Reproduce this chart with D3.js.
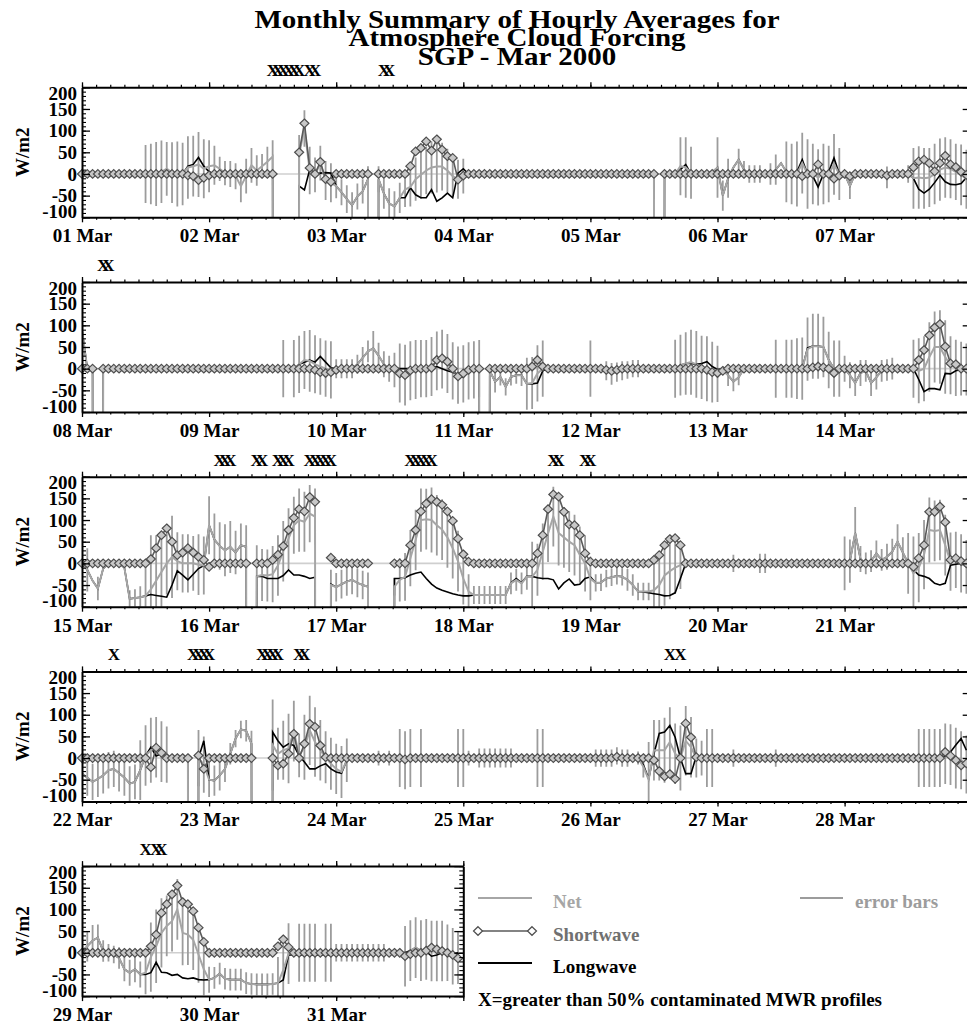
<!DOCTYPE html>
<html><head><meta charset="utf-8">
<script src="https://cdn.jsdelivr.net/npm/d3@7"></script>
<style>body{margin:0;background:#fff}svg{display:block}</style>
</head><body>
<svg id="chart" width="967" height="1025"></svg>
<script>
const _ = null;

const titleLines = ["Monthly Summary of Hourly Averages for", "Atmosphere Cloud Forcing", "SGP - Mar 2000"];
const dayLabels = ["01 Mar","02 Mar","03 Mar","04 Mar","05 Mar","06 Mar","07 Mar","08 Mar","09 Mar","10 Mar",
  "11 Mar","12 Mar","13 Mar","14 Mar","15 Mar","16 Mar","17 Mar","18 Mar","19 Mar","20 Mar","21 Mar","22 Mar",
  "23 Mar","24 Mar","25 Mar","26 Mar","27 Mar","28 Mar","29 Mar","30 Mar","31 Mar"];
const panelStartDay = [0, 7, 14, 21, 28];
const panelDays = [7, 7, 7, 7, 3];
const yTicks = [-100, -50, 0, 50, 100, 150, 200];
const yTitle = "W/m2";
const legendNames = ["Net", "Shortwave", "Longwave", "error bars"];
const footnote = "X=greater than 50% contaminated MWR profiles";

// hourly values, one row per day (24 hours), null = missing
const sw1 = [
 [0,0,0,0,0,0,0,0,0,0,0,0,0,0,0,0,0,0,0,0,-3,-5,-14,-9],
 [-3,0,0,0,0,0,0,0,0,0,0,0,0,_,_,_,_,50,117,14,0,28,-12,-18],
 [0,0,0,0,0,0,0,_,0,0,0,0,0,0,18,52,60,75,54,80,56,41,37,-13],
 [-4,0,0,0,0,0,0,0,0,0,0,0,0,0,0,0,0,0,0,0,0,0,0,0],
 [0,0,0,0,0,0,0,0,0,0,0,0,0,_,0,0,0,0,0,0,0,0,0,0],
 [0,0,0,0,0,0,0,0,0,0,0,0,0,0,0,0,-5,0,0,22,0,0,-11,-4],
 [0,-5,0,0,0,0,0,0,-3,0,0,0,0,15,29,33,25,6,25,42,22,16,5,-2]];
const lw1 = [
 [0,0,0,0,0,0,0,0,0,0,0,0,0,0,0,5,10,2,0,0,18,22,38,18],
 [5,0,0,0,0,0,0,0,0,0,0,0,0,_,_,_,_,-28,-37,10,-2,2,3,2],
 [-28,-42,-58,-72,-52,-40,-12,_,-12,-45,-68,-75,-55,-55,-32,-48,-55,-55,-36,-63,-55,-44,-55,2],
 [12,0,0,0,0,0,0,0,0,0,0,0,0,0,0,0,0,0,0,0,0,0,0,0],
 [0,0,0,0,0,0,0,0,0,0,0,0,0,_,0,0,0,10,22,0,0,0,0,0],
 [15,-50,-10,15,33,10,0,0,0,0,0,10,25,5,0,5,33,0,-5,-30,0,5,37,0],
 [0,-28,0,0,0,0,0,0,-8,0,0,0,0,-10,-35,-44,-35,-20,-3,-18,-24,-25,-22,-8]];
const net1 = [
 [0,0,0,0,0,0,0,0,0,0,0,0,0,0,0,5,12,3,0,0,15,18,22,12],
 [18,20,12,2,0,-5,-28,-5,20,8,18,28,40,_,_,_,_,45,105,8,-2,25,-15,-20],
 [-28,-42,-58,-72,-52,-40,-12,_,-12,-45,-68,-75,-55,-36,-30,-12,-2,8,15,17,17,8,-5,-12],
 [-5,0,0,0,0,0,0,0,0,0,0,0,0,0,0,0,0,0,0,0,0,0,0,0],
 [0,0,0,0,0,0,0,0,0,0,0,0,0,_,0,0,0,18,15,3,0,0,0,5],
 [15,-50,-10,15,33,10,0,0,0,0,0,10,25,5,0,0,25,0,0,-8,0,0,22,0],
 [0,-28,0,0,0,0,0,0,-8,0,0,0,0,-10,-8,-10,-8,0,10,15,12,5,-2,-12]];
const err1 = [
 [_,_,_,_,_,_,_,_,_,_,_,_,67,70,74,72,62,70,75,72,72,70,75,68],
 [60,45,28,28,30,30,37,40,40,35,28,35,38,_,_,_,_,45,42,55,40,40,45,45],
 [28,30,32,30,30,28,30,_,30,35,35,35,35,40,45,50,55,55,60,60,55,50,45,45],
 [40,_,_,_,_,_,_,_,_,_,_,_,_,_,_,_,_,_,_,_,_,_,_,_],
 [_,_,_,_,_,_,_,_,_,_,_,_,_,_,_,_,_,67,70,60,_,_,_,_],
 [70,35,45,_,25,20,20,20,20,_,25,35,_,70,70,75,70,80,70,65,70,65,70,60],
 [_,30,_,_,_,_,_,_,25,_,_,_,20,70,72,70,68,70,72,70,68,65,70,68]];
const flags1 = [36,37,38,39,40,41,43,44,57,58];

const sw2 = [
 [0,0,0,_,0,0,0,0,0,0,0,0,0,0,0,0,0,0,0,0,0,0,0,0],
 [0,0,0,0,0,0,0,0,0,0,0,0,0,0,0,0,0,0,0,0,-3,-8,-10,-8],
 [-3,0,0,0,0,0,0,0,0,0,0,0,-11,-15,-4,0,0,0,2,20,24,16,0,-18],
 [-11,-3,0,0,_,0,0,0,0,0,0,0,0,5,20,5,0,0,0,0,0,0,0,0],
 [0,0,0,-3,-5,-3,0,0,0,0,0,0,0,0,0,0,0,0,0,0,0,0,-3,-8],
 [-10,-5,0,0,0,0,0,0,0,0,0,0,0,0,0,0,0,0,3,5,3,0,-10,0],
 [0,0,0,0,0,0,0,0,0,0,0,0,0,0,20,43,77,95,103,51,12,10,0,0]];
const lw2 = [
 [90,0,0,_,0,0,0,0,0,0,0,0,0,0,0,0,0,0,0,0,0,0,0,0],
 [0,0,0,0,0,0,0,0,0,0,0,0,0,0,0,0,0,10,15,20,15,28,15,2],
 [0,0,0,0,10,25,40,47,30,10,0,0,0,0,0,-2,0,0,3,5,0,-5,-8,-15],
 [-20,-5,0,0,_,-5,-30,-19,-42,-19,-15,-15,-35,-35,-33,-5,0,0,0,0,0,0,0,0],
 [0,0,0,-2,-7,-5,-5,-3,0,0,0,0,0,0,0,0,0,8,12,12,10,12,16,5],
 [-2,0,-15,-30,-20,0,0,0,0,0,0,0,0,0,0,0,0,48,52,52,50,20,0,0],
 [0,-15,-33,-10,-5,-33,-20,-5,-3,0,0,0,0,0,-25,-53,-46,-46,-49,-11,-12,-5,-2,-2]];
const net2 = [
 [90,0,0,_,0,0,0,0,0,0,0,0,0,0,0,0,0,0,0,0,0,0,0,0],
 [0,0,0,0,0,0,0,0,0,0,0,0,0,0,0,0,0,10,20,18,10,5,0,-3],
 [0,0,0,0,10,25,40,47,30,10,0,-3,-10,-15,-5,-2,0,0,5,18,22,12,-5,-15],
 [-12,-5,-3,0,_,-5,-30,-19,-42,-19,-15,-15,-35,-33,-11,0,0,0,0,0,0,0,0,0],
 [0,0,0,-5,-12,-8,-5,-3,0,0,0,0,0,0,0,0,0,8,12,15,10,3,0,-8],
 [-12,-5,-15,-30,-20,0,0,0,0,0,0,0,0,0,0,0,0,45,52,52,50,20,0,0],
 [0,-15,-33,-10,-5,-33,-20,-5,-3,0,0,0,0,0,-5,0,27,50,50,27,8,2,0,-2]];
const err2 = [
 [_,_,_,_,_,_,_,_,_,_,_,_,_,_,_,_,_,_,_,_,_,_,_,_],
 [_,_,_,_,_,_,_,_,_,_,_,_,_,_,66,_,66,66,67,71,67,65,65,66],
 [22,22,22,22,22,25,25,40,30,30,30,40,68,70,68,68,66,66,68,68,68,68,66,66],
 [66,66,66,66,_,_,25,20,20,20,20,25,60,60,65,65,_,_,_,_,_,_,_,_],
 [65,_,_,22,25,22,22,20,20,20,_,_,_,_,_,_,67,70,72,75,77,73,75,70],
 [65,_,25,22,18,_,_,_,_,_,_,67,_,67,67,70,72,73,75,75,70,65,65,65],
 [30,30,30,30,25,30,28,25,25,25,_,_,_,67,75,75,80,82,85,85,67,65,62,60]];
const flags2 = [4,5];

const sw3 = [
 [0,0,0,0,0,0,0,0,0,0,0,0,0,10,35,65,81,50,19,25,35,25,15,8],
 [-8,0,0,0,0,0,0,0,_,0,0,0,8,20,40,77,105,125,120,153,142,_,_,13],
 [0,0,0,0,0,0,0,_,_,_,_,0,0,0,42,77,120,138,148,142,135,120,98,57],
 [21,4,0,0,0,0,0,0,0,0,0,0,0,0,23,65,125,159,154,119,90,88,65,23],
 [4,0,0,0,0,0,0,0,0,0,0,0,8,19,42,56,58,42,0,0,0,0,0,0],
 [0,0,0,0,0,0,0,0,0,0,0,0,0,0,0,0,0,0,0,0,0,0,0,0],
 [0,0,0,0,0,0,0,0,0,0,0,0,0,-8,12,42,119,119,131,95,8,12,5,0]];
const lw3 = [
 [0,-15,-40,-58,-12,0,0,0,-10,-82,-80,-78,-75,-72,-74,-76,-78,-50,-17,-27,-38,-25,-12,-5],
 [88,55,40,30,38,25,42,38,_,-30,-30,-35,-35,-35,-28,-15,-27,-27,-30,-35,-32,_,_,-48],
 [-55,-48,-42,-38,-45,-50,-54,_,_,_,_,-35,-35,-33,-27,-23,-20,-35,-48,-57,-62,-66,-70,-73],
 [-75,-75,-73,-73,-73,-73,-73,-73,-73,-45,-35,-45,-30,-30,-33,-35,-35,-38,-59,-45,-36,-50,-48,-35],
 [-31,-45,-44,-35,-32,-29,-31,-38,-50,-65,-66,-68,-70,-72,-75,-74,-68,-35,0,0,0,0,0,0],
 [0,0,0,0,0,0,0,0,0,0,0,0,0,0,0,0,0,0,0,0,0,0,0,0],
 [0,5,70,10,0,5,23,8,15,27,50,25,0,-15,-27,-30,-35,-46,-50,-46,-4,-2,0,-8]];
const net3 = [
 [0,-15,-40,-58,-12,0,0,0,-10,-82,-80,-78,-75,-60,-40,-20,0,15,5,0,0,0,-3,-5],
 [88,55,40,30,38,25,42,38,_,-30,-27,-28,-25,-5,28,57,88,100,96,115,108,_,_,-50],
 [-55,-48,-42,-38,-45,-50,-54,_,_,_,_,-54,-38,-31,12,54,100,102,100,88,78,60,35,5],
 [-35,-65,-73,-73,-73,-73,-73,-73,-73,-46,-38,-46,-31,-31,-15,27,69,108,70,60,50,42,20,0],
 [-35,-45,-44,-35,-32,-29,-31,-38,-50,-65,-65,-65,-62,-50,-28,-18,-10,-4,0,0,0,0,0,0],
 [0,0,0,0,0,0,0,0,0,0,0,0,0,0,0,0,0,0,0,0,0,0,0,0],
 [0,5,70,10,0,5,23,8,15,27,50,25,0,-23,-10,20,77,75,77,42,4,8,0,-8]];
const err3 = [
 [_,50,_,27,_,_,_,_,_,20,20,25,75,125,105,85,72,95,67,67,67,63,70,67],
 [67,60,55,60,60,50,50,50,_,72,60,60,65,70,70,70,66,73,69,66,65,_,_,35],
 [33,33,33,33,33,33,33,_,_,_,_,20,50,55,65,70,73,70,75,70,70,70,70,70],
 [60,40,21,21,21,21,21,21,21,25,25,25,30,81,60,65,66,69,75,70,70,70,65,65],
 [50,20,20,20,20,20,20,25,25,20,20,20,70,70,70,65,60,55,_,_,_,_,_,_],
 [_,_,_,20,_,_,_,_,22,22,_,_,_,_,_,_,_,_,_,_,_,_,_,_],
 [62,50,60,30,25,25,30,25,30,30,40,35,70,85,80,80,75,70,70,70,67,65,67,62]];
const flags3 = [26,27,28,33,34,37,38,39,43,44,45,46,47,62,63,64,65,66,89,90,95,96];

const sw4 = [
 [0,0,0,0,0,0,0,0,0,0,0,0,0,-21,24,12,0,0,0,0,0,_,6,-25],
 [0,0,0,0,0,0,0,0,0,_,_,_,0,-17,-13,10,56,0,33,79,72,29,2,0],
 [0,0,0,0,0,0,0,0,0,0,0,0,0,-3,0,0,0,0,0,0,0,0,0,0],
 [0,0,0,0,0,0,0,0,0,0,0,0,0,0,0,0,0,0,0,0,0,0,0,0],
 [0,0,0,0,0,3,0,0,0,0,0,0,-5,-30,-42,-37,-48,0,80,48,2,0,0,0],
 [0,0,0,0,0,0,0,0,0,0,0,0,0,0,0,0,0,0,0,0,0,0,0,0],
 [0,0,0,0,0,0,0,0,0,0,0,0,0,0,0,0,0,0,0,14,5,-5,-17,-12]];
const lw4 = [
 [-36,-45,-55,-48,-40,-28,-25,-35,-45,-59,-55,-28,5,25,5,10,5,0,0,0,0,_,0,40],
 [-50,-52,-40,-25,10,45,66,63,33,_,_,_,60,40,25,33,29,6,-9,-25,-25,-18,-13,-25],
 [-32,-35,-5,0,0,0,0,0,0,0,0,0,0,0,0,0,0,0,0,0,0,0,0,0],
 [0,0,0,0,0,0,0,0,0,0,0,0,0,0,0,0,0,0,0,0,0,0,0,0],
 [0,0,0,0,0,5,0,0,0,0,-15,-48,10,57,60,75,48,0,-36,-36,5,0,0,0],
 [0,0,0,0,0,0,0,0,0,0,0,0,0,0,0,0,0,0,0,0,0,0,0,0],
 [0,0,0,0,0,0,0,0,0,0,0,0,0,0,0,0,0,0,0,5,14,30,45,18]];
const net4 = [
 [-36,-45,-55,-48,-40,-28,-25,-35,-45,-59,-55,-28,6,18,25,15,8,0,0,0,0,_,0,-15],
 [-50,-52,-40,-25,10,45,66,63,33,_,_,_,30,10,18,22,62,6,25,64,37,18,2,-13],
 [-25,-32,-5,0,0,0,0,0,0,0,0,0,0,-5,0,0,0,0,0,0,0,0,0,0],
 [0,0,0,0,0,0,0,0,0,0,0,0,0,0,0,0,0,0,0,0,0,0,0,0],
 [0,0,0,0,0,5,0,0,0,0,-20,-50,18,18,18,37,10,0,40,25,0,0,0,0],
 [0,0,0,0,0,0,0,0,0,0,0,0,0,0,0,0,0,0,0,0,0,0,0,0],
 [0,0,0,0,0,0,0,0,0,0,0,0,0,0,0,0,0,0,0,10,8,0,-5,-15]];
const err4 = [
 [42,42,42,42,42,42,42,42,42,40,40,69,70,75,70,70,65,_,_,_,_,_,65,65],
 [40,35,35,30,25,20,20,25,30,_,_,_,105,60,68,80,70,50,75,80,80,70,60,60],
 [58,60,50,_,_,_,_,_,17,_,17,_,67,67,67,_,67,_,_,_,_,_,_,67],
 [67,17,_,22,22,22,22,22,22,22,_,_,_,_,67,67,_,_,_,_,_,_,_,_],
 [_,20,20,20,20,20,20,20,_,15,25,87,70,70,75,80,70,75,80,70,45,40,67,67],
 [_,_,_,20,_,_,_,_,_,_,_,20,_,_,_,_,_,_,_,_,_,_,_,_],
 [_,_,_,_,_,_,_,_,_,_,_,_,_,_,67,67,67,67,67,70,70,70,67,67]];
const flags4 = [6,21,22,23,24,34,35,36,37,41,42,111,113];

const sw5 = [
 [0,0,0,0,0,0,0,0,0,0,0,0,0,15,42,92,112,135,155,117,112,96,58,25],
 [0,0,0,0,0,0,0,0,0,0,0,0,0,15,31,13,0,0,0,0,0,0,0,0],
 [0,0,0,0,0,0,0,0,0,0,0,0,0,-8,-3,0,0,5,12,8,4,0,-5,-13]];
const lw5 = [
 [4,15,28,35,4,0,-4,-12,-38,-46,-38,-50,-50,-46,-22,-45,-46,-52,-50,-58,-60,-58,-62,-63],
 [-62,-58,-48,-60,-62,-62,-62,-70,-72,-73,-73,-73,-72,-70,-63,-5,-5,-5,-5,-5,-5,-5,-5,-5],
 [-3,-2,0,0,0,0,0,0,0,0,0,0,0,0,5,12,5,3,-8,-5,0,0,-3,0]];
const net5 = [
 [4,15,28,35,4,0,-4,-12,-38,-46,-38,-50,-46,-10,15,46,62,73,100,46,42,30,-4,-38],
 [-62,-58,-48,-60,-62,-62,-62,-70,-72,-73,-73,-73,-72,-70,-40,-2,0,0,0,0,0,0,0,0],
 [0,0,0,0,0,0,0,0,0,0,0,0,0,-8,5,12,5,8,4,4,4,0,-8,-12]];
const err5 = [
 [30,35,36,30,25,20,20,25,28,30,30,30,50,80,85,80,70,70,70,75,70,70,65,60],
 [30,25,25,25,25,25,25,25,25,25,25,25,25,60,80,70,_,67,67,67,67,_,67,67],
 [20,20,20,20,20,20,20,20,20,20,_,_,_,70,70,70,70,70,70,70,70,65,65,60]];
const flags5 = [12,14,15];

// ---- assemble ----
const rawPanels = [
  {sw: sw1, lw: lw1, net: net1, err: err1, flags: flags1},
  {sw: sw2, lw: lw2, net: net2, err: err2, flags: flags2},
  {sw: sw3, lw: lw3, net: net3, err: err3, flags: flags3},
  {sw: sw4, lw: lw4, net: net4, err: err4, flags: flags4},
  {sw: sw5, lw: lw5, net: net5, err: err5, flags: flags5}];
rawPanels.forEach((p, i) => {
  ["sw","lw","net","err"].forEach(k => {
    if (p[k].length !== panelDays[i]) throw new Error(`panel ${i+1} ${k}: ${p[k].length} days`);
    p[k].forEach((row, d) => { if (row.length !== 24) throw new Error(`panel ${i+1} ${k} day ${d+1}: ${row.length} hours`); });
  });
});
const panels = rawPanels.map((p, i) => ({
  sw: p.sw.flat(), lw: p.lw.flat(), net: p.net.flat(), err: p.err.flat(), flags: p.flags,
  days: panelDays[i], start: panelStartDay[i]}));

// ---- layout / style ----
const W = 967, H = 1025;
const X0 = 82, DAY_W = 127.1, TOP0 = 87.3, PITCH = 194.7, PH = 130;
const FILLV = -9999;  // IDL missing value: lines drop off the plot
const FONT = '"Liberation Serif","Times New Roman",Times,serif';
const C = {net: "#a6a6a6", err: "#9c9c9c", sw: "#5a5a5a", lw: "#000", zero: "#cfcfcf", dia: "#4e4e4e", diaFill: "#c8c8c8"};

const svg = d3.select("#chart");
svg.append("rect").attr("width", W).attr("height", H).attr("fill", "#fff");

function txt(parent, x, y, s, o = {}) {
  const g = parent.append("g").attr("transform",
    `translate(${x},${y})` + (o.rot ? ` rotate(${o.rot})` : "") + (o.sx ? ` scale(${o.sx},1)` : ""));
  return g.append("text").attr("text-anchor", o.anchor || "start").attr("font-size", o.size || 19)
    .attr("font-weight", "bold").attr("font-family", FONT).attr("fill", o.fill || "#000").text(s);
}

// title
titleLines.forEach((s, i) => txt(svg, 517, 28 + i * 18.3, s, {anchor: "middle", size: 25, sx: 1.16}));

const diamond = "M0,-4.3L4.5,0L0,4.3L-4.5,0Z";

panels.forEach((p, i) => {
  const top = TOP0 + i * PITCH, bot = top + PH;
  const nH = p.days * 24;
  const x = d3.scaleLinear().domain([0, nH]).range([X0, X0 + p.days * DAY_W]);
  const y = d3.scaleLinear().domain([-100, 200]).range([bot, top]);
  const g = svg.append("g");
  const cid = "clip" + i;
  svg.append("clipPath").attr("id", cid).append("rect")
    .attr("x", x(0)).attr("y", top).attr("width", x(nH) - x(0)).attr("height", PH);
  const pg = g.append("g").attr("clip-path", `url(#${cid})`);
  const hours = d3.range(nH);

  pg.append("line").attr("x1", x(0)).attr("x2", x(nH)).attr("y1", y(0)).attr("y2", y(0))
    .attr("stroke", C.zero).attr("stroke-width", 1.6);

  pg.selectAll("line.err").data(hours.filter(h => p.err[h] != null && p.net[h] != null)).join("line")
    .attr("class", "err")
    .attr("x1", h => x(h)).attr("x2", h => x(h))
    .attr("y1", h => y(p.net[h] - p.err[h])).attr("y2", h => y(p.net[h] + p.err[h]))
    .attr("stroke", C.err).attr("stroke-width", 1.8);

  const dropLine = d3.line().x((d, h) => x(h)).y(d => y(d == null ? FILLV : d));
  pg.append("path").attr("d", dropLine(p.lw)).attr("fill", "none").attr("stroke", C.lw).attr("stroke-width", 1.6);
  pg.append("path").attr("d", dropLine(p.net)).attr("fill", "none").attr("stroke", C.net).attr("stroke-width", 2);
  const swLine = d3.line().defined(d => d != null).x((d, h) => x(h)).y(d => y(d));
  pg.append("path").attr("d", swLine(p.sw)).attr("fill", "none").attr("stroke", C.sw).attr("stroke-width", 1.6);
  g.selectAll("path.dia").data(hours.filter(h => p.sw[h] != null)).join("path")
    .attr("class", "dia").attr("d", diamond)
    .attr("transform", h => `translate(${x(h)},${y(p.sw[h])})`)
    .attr("fill", C.diaFill).attr("stroke", C.dia).attr("stroke-width", 1.2);

  const major = d3.range(0, nH + 1, 24);
  const minor = d3.range(0, p.days * 9 + 1).map(k => k * 24 / 9);
  const styleAxis = (sel, w) => { sel.select(".domain").attr("stroke-width", w); sel.selectAll(".tick line").attr("stroke-width", 1.3); };

  const bAx = g.append("g").attr("transform", `translate(0,${bot})`)
    .call(d3.axisBottom(x).tickValues(major).tickSize(5).tickSizeOuter(0)
      .tickFormat((h) => h < nH ? dayLabels[p.start + h / 24] : ""));
  styleAxis(bAx, 2);
  bAx.selectAll("text").attr("y", 25).attr("dy", null).attr("font-size", 19).attr("font-weight", "bold")
    .attr("font-family", FONT).attr("fill", "#000");
  g.append("g").attr("transform", `translate(0,${bot})`)
    .call(d3.axisBottom(x).tickValues(minor).tickSize(2.5).tickSizeOuter(0).tickFormat(""))
    .call(s => { s.select(".domain").remove(); s.selectAll(".tick line").attr("stroke-width", 1.2); });

  const tAx = g.append("g").attr("transform", `translate(0,${top})`)
    .call(d3.axisTop(x).tickValues(major).tickSize(5).tickSizeOuter(0).tickFormat(""));
  styleAxis(tAx, 2);
  g.append("g").attr("transform", `translate(0,${top})`)
    .call(d3.axisTop(x).tickValues(minor).tickSize(2.5).tickSizeOuter(0).tickFormat(""))
    .call(s => { s.select(".domain").remove(); s.selectAll(".tick line").attr("stroke-width", 1.2); });

  const lAx = g.append("g").attr("transform", `translate(${x(0)},0)`)
    .call(d3.axisLeft(y).tickValues(yTicks).tickSize(-8).tickSizeOuter(0).tickPadding(5).tickFormat(d => String(d)));
  styleAxis(lAx, 2);
  // end labels are kept inside the frame's height, as in the original
  lAx.selectAll("text").attr("font-size", 19).attr("font-weight", "bold").attr("font-family", FONT).attr("fill", "#000")
    .attr("y", d => d === yTicks[yTicks.length - 1] ? 6 : d === yTicks[0] ? -6 : 0);
  g.append("g").attr("transform", `translate(${x(0)},0)`)
    .call(d3.axisLeft(y).tickValues(d3.range(-100, 201, 10)).tickSize(-4).tickSizeOuter(0).tickFormat(""))
    .call(s => { s.select(".domain").remove(); s.selectAll(".tick line").attr("stroke-width", 1.1); });

  const rAx = g.append("g").attr("transform", `translate(${x(nH)},0)`)
    .call(d3.axisRight(y).tickValues(yTicks).tickSize(-9).tickSizeOuter(0).tickFormat(""));
  styleAxis(rAx, 2);
  g.append("g").attr("transform", `translate(${x(nH)},0)`)
    .call(d3.axisRight(y).tickValues(d3.range(-100, 201, 10)).tickSize(-4).tickSizeOuter(0).tickFormat(""))
    .call(s => { s.select(".domain").remove(); s.selectAll(".tick line").attr("stroke-width", 1.1); });

  txt(g, 29, (top + bot) / 2, yTitle, {anchor: "middle", rot: -90, size: 19});

  g.selectAll("g.flag").data(p.flags).join("g").attr("class", "flag")
    .attr("transform", h => `translate(${x(h)},${top - 11})`)
    .append("text").attr("text-anchor", "middle").attr("font-size", 17).attr("font-weight", "bold")
    .attr("font-family", FONT).text("X");
});

// legend
const lg = svg.append("g");
lg.append("line").attr("x1", 478).attr("x2", 532).attr("y1", 898).attr("y2", 898).attr("stroke", C.net).attr("stroke-width", 2);
txt(lg, 553, 908, legendNames[0], {fill: C.net});
lg.append("line").attr("x1", 478).attr("x2", 532).attr("y1", 931).attr("y2", 931).attr("stroke", C.sw).attr("stroke-width", 1.6);
[478, 532].forEach(xx => lg.append("path").attr("d", diamond).attr("transform", `translate(${xx},931)`)
  .attr("fill", "#fff").attr("stroke", C.dia).attr("stroke-width", 1.2));
txt(lg, 553, 941, legendNames[1], {fill: "#707070"});
lg.append("line").attr("x1", 478).attr("x2", 532).attr("y1", 963).attr("y2", 963).attr("stroke", C.lw).attr("stroke-width", 1.8);
txt(lg, 553, 973, legendNames[2], {fill: "#000"});
lg.append("line").attr("x1", 800).attr("x2", 843).attr("y1", 898).attr("y2", 898).attr("stroke", C.err).attr("stroke-width", 2);
txt(lg, 855, 908, legendNames[3], {fill: C.err});
txt(lg, 478, 1006, footnote, {fill: "#000"});
</script>
</body></html>
